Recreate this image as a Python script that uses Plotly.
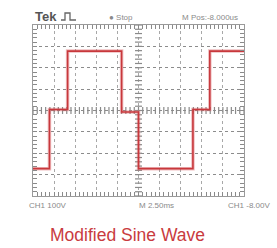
import numpy as np
import plotly.graph_objects as go

time_ms = [-12.5, -10.55, -8.4, -2.0, 0.0, 6.45, 8.45, 12.5]
volts = [-272, 5, 278, -7, -272, 5, 278, 278]

x_range = [-12.5, 12.5]   # 10 div x 2.5 ms
y_range = [-400, 400]     # 8 div x 100 V
x_div = 2.5
y_div = 100

title_text = "Modified Sine Wave"
top_labels = ["<b>Tek</b>", "\u25cf Stop", "M Pos:-8.000us"]
bottom_labels = ["CH1 100V", "M 2.50ms", "CH1 -8.00V"]

# ---- layout geometry ----
W, H = 277, 248
L, R, T, B = 33, 244, 25, 196


def fx(px):
    return (px - L) / (R - L)


def fy(py):
    return (B - py) / (B - T)


fig = go.Figure()

# centre graticule ticks
cx = np.arange(x_range[0], x_range[1] + 1e-9, x_div / 5)
cy = np.arange(y_range[0], y_range[1] + 1e-9, y_div / 5)
fig.add_trace(go.Scatter(x=cx, y=np.zeros_like(cx), mode="markers",
                         marker=dict(symbol="line-ns", size=5, line=dict(width=1.2, color="#8a8a8a")),
                         hoverinfo="skip"))
fig.add_trace(go.Scatter(x=np.zeros_like(cy), y=cy, mode="markers",
                         marker=dict(symbol="line-ew", size=5, line=dict(width=1.2, color="#8a8a8a")),
                         hoverinfo="skip"))

# waveform: glow + core
fig.add_trace(go.Scatter(x=time_ms, y=volts, mode="lines", line_shape="hv",
                         line=dict(color="rgba(214,90,95,0.4)", width=3.5), hoverinfo="skip"))
fig.add_trace(go.Scatter(x=time_ms, y=volts, mode="lines", line_shape="hv",
                         line=dict(color="#c8383c", width=1.6), hoverinfo="skip"))

axis_common = dict(showticklabels=False, showline=True, linecolor="#9a9a9a", linewidth=1,
                   mirror="ticks", ticks="inside", ticklen=4, tickcolor="#8a8a8a",
                   zeroline=False, showgrid=True, gridwidth=1, fixedrange=True)

fig.update_xaxes(range=x_range, tick0=0, dtick=x_div, gridcolor="#a8a8a8", griddash="dot",
                 minor=dict(dtick=x_div / 5, ticks="inside", ticklen=4, tickcolor="#8a8a8a", showgrid=False),
                 **axis_common)
fig.update_yaxes(range=y_range, tick0=0, dtick=y_div, gridcolor="#8c8c8c", griddash="dot",
                 minor=dict(dtick=y_div / 5, ticks="inside", ticklen=4, tickcolor="#8a8a8a", showgrid=False),
                 **axis_common)

ann = []
gray = "#8a8a8a"
ann.append(dict(text=top_labels[0], x=fx(33), y=fy(16), xanchor="left", yanchor="middle",
                font=dict(family="Liberation Sans", size=13, color="#555555")))
ann.append(dict(text=top_labels[1], x=fx(107), y=fy(17), xanchor="left", yanchor="middle",
                font=dict(family="Liberation Sans", size=8, color=gray)))
ann.append(dict(text=top_labels[2], x=fx(180), y=fy(17), xanchor="left", yanchor="middle",
                font=dict(family="Liberation Sans", size=8, color=gray)))
for txt, px in zip(bottom_labels, [27, 137, 226]):
    ann.append(dict(text=txt, x=fx(px), y=fy(206), xanchor="left", yanchor="middle",
                    font=dict(family="Liberation Sans", size=8, color=gray)))
ann.append(dict(text=title_text, x=fx(127), y=fy(235), xanchor="center", yanchor="middle",
                font=dict(family="Liberation Sans", size=17.5, color="#c93b3e")))
for a in ann:
    a.update(xref="paper", yref="paper", showarrow=False)

# Tek trigger glyph (decoration)
glyph = "M {0},{4} L {1},{4} L {1},{3} L {2},{3} L {2},{4} L {5},{4}".format(
    fx(61), fx(65), fx(70), fy(13), fy(20), fx(76))

fig.update_layout(
    width=W, height=H,
    margin=dict(l=L, r=W - R, t=T, b=H - B, pad=0),
    paper_bgcolor="white", plot_bgcolor="white",
    showlegend=False,
    annotations=ann,
    shapes=[dict(type="path", path=glyph, xref="paper", yref="paper",
                 line=dict(color="#666666", width=1.3))],
)

fig.write_html("out.html", config={"displayModeBar": False},
               post_script="document.body.style.margin='0';document.body.style.padding='0';")
